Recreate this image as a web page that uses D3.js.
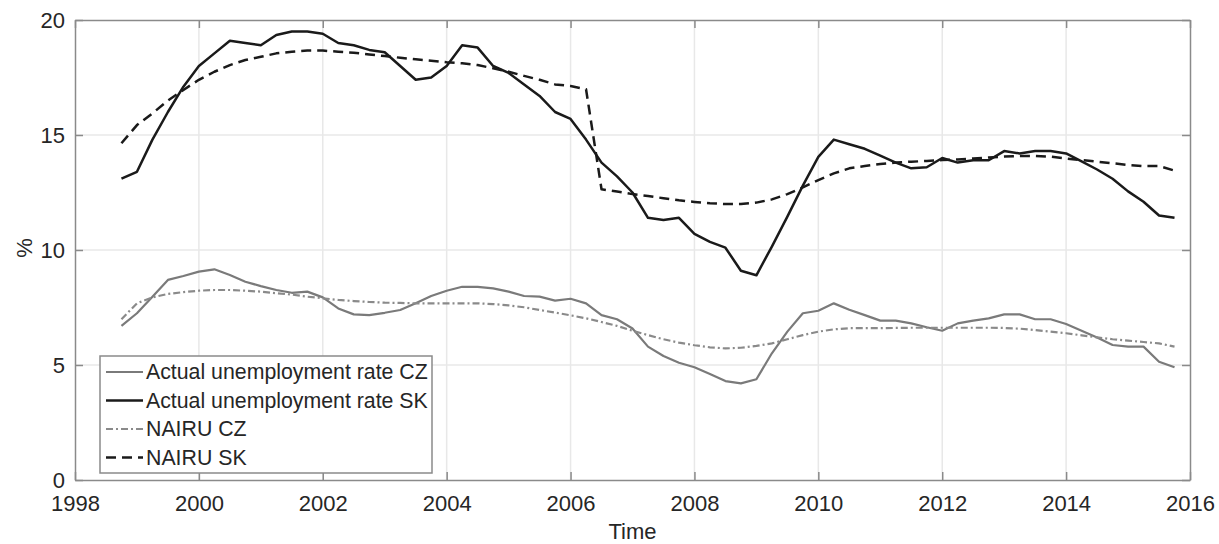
<!doctype html>
<html lang="en">
<head>
    <title>Unemployment and NAIRU</title>
    <script src='https://d3js.org/d3.v7.min.js'></script>
    <style>
        body { margin: 0; background: #fff; }
        svg text {
            font-family: "Liberation Sans", Arial, sans-serif;
            fill: #262626;
        }
    </style>
</head>
<body>
    <div id="chart"></div>
    <script>
        // Quarterly data, Q4 1998 to Q4 2015
        var firstQuarter = 1998.75;

        var actualCZ = [6.7, 7.25, 7.97, 8.7, 8.87, 9.06, 9.16, 8.91, 8.62, 8.43, 8.26, 8.14, 8.19, 7.94,
            7.46, 7.2, 7.17, 7.27, 7.39, 7.68, 8.0, 8.23, 8.4, 8.4, 8.33, 8.19, 8.0, 7.97, 7.8, 7.88,
            7.68, 7.17, 6.99, 6.59, 5.8, 5.39, 5.1, 4.9, 4.61, 4.3, 4.2, 4.38, 5.51, 6.45, 7.25, 7.36,
            7.68, 7.4, 7.17, 6.93, 6.93, 6.81, 6.64, 6.49, 6.81, 6.93, 7.03, 7.2, 7.2, 6.99, 6.99, 6.78,
            6.49, 6.2, 5.87, 5.8, 5.8, 5.14, 4.9];

        var actualSK = [13.1, 13.4, 14.8, 16.0, 17.1, 18.0, 18.55, 19.1, 19.0, 18.9, 19.35, 19.5, 19.5, 19.4,
            19.0, 18.9, 18.7, 18.6, 18.0, 17.4, 17.5, 18.0, 18.9, 18.8, 18.0, 17.7, 17.2, 16.7, 16.0, 15.7,
            14.8, 13.8, 13.2, 12.5, 11.4, 11.3, 11.4, 10.7, 10.35, 10.1, 9.1, 8.9, 10.15, 11.45, 12.8, 14.05,
            14.8, 14.6, 14.4, 14.1, 13.8, 13.55, 13.6, 14.0, 13.8, 13.9, 13.9, 14.3, 14.2, 14.3, 14.3, 14.2,
            13.85, 13.5, 13.1, 12.55, 12.1, 11.5, 11.4];

        var nairuCZ = [6.99, 7.68, 7.94, 8.09, 8.17, 8.23, 8.26, 8.26, 8.23, 8.19, 8.12, 8.06, 7.97, 7.9,
            7.83, 7.78, 7.74, 7.71, 7.7, 7.68, 7.68, 7.68, 7.68, 7.68, 7.65, 7.59, 7.51, 7.39, 7.28, 7.16,
            7.03, 6.87, 6.7, 6.49, 6.3, 6.12, 5.97, 5.86, 5.77, 5.72, 5.75, 5.83, 5.94, 6.12, 6.3, 6.45,
            6.55, 6.6, 6.6, 6.6, 6.61, 6.62, 6.62, 6.62, 6.62, 6.62, 6.62, 6.61, 6.58, 6.52, 6.45, 6.38,
            6.29, 6.2, 6.12, 6.06, 6.0, 5.94, 5.8];

        var nairuSK = [14.64, 15.43, 15.94, 16.5, 16.96, 17.4, 17.75, 18.04, 18.26, 18.4, 18.55, 18.62, 18.67, 18.67,
            18.62, 18.58, 18.5, 18.43, 18.36, 18.29, 18.23, 18.16, 18.12, 18.04, 17.9, 17.75, 17.57, 17.4, 17.2, 17.13,
            16.99, 12.64, 12.54, 12.43, 12.35, 12.25, 12.16, 12.09, 12.03, 12.0, 12.0, 12.06, 12.2, 12.43, 12.72, 13.04,
            13.33, 13.55, 13.65, 13.74, 13.8, 13.84, 13.87, 13.91, 13.94, 13.98, 14.02, 14.06, 14.09, 14.09, 14.06, 13.98,
            13.91, 13.84, 13.77, 13.7, 13.65, 13.65, 13.45];

        var xTicks = [1998, 2000, 2002, 2004, 2006, 2008, 2010, 2012, 2014, 2016];
        var yTicks = [0, 5, 10, 15, 20];

        var seriesNames = ["Actual unemployment rate CZ", "Actual unemployment rate SK", "NAIRU CZ", "NAIRU SK"];

        var quarters = d3.range(actualSK.length).map(function(i) { return firstQuarter + i * 0.25; });

        // Chart size
        var width  = 1219;
        var height = 544;
        var margin = { top: 20, right: 29, bottom: 64, left: 75 };

        var x = d3.scaleLinear().domain([1998, 2016]).range([margin.left, width - margin.right]);
        var y = d3.scaleLinear().domain([0, 20]).range([height - margin.bottom, margin.top]);

        var svg = d3.select("#chart")
            .append("svg")
            .attr("width", width)
            .attr("height", height);

        // Grid lines
        svg.append("g")
            .selectAll("line")
            .data(xTicks.slice(1, -1))
            .enter().append("line")
            .attr("x1", function(d) { return x(d); })
            .attr("x2", function(d) { return x(d); })
            .attr("y1", y(0)).attr("y2", y(20))
            .attr("stroke", "#e8e8e8").attr("stroke-width", 1.5);

        svg.append("g")
            .selectAll("line")
            .data(yTicks.slice(1, -1))
            .enter().append("line")
            .attr("y1", function(d) { return y(d); })
            .attr("y2", function(d) { return y(d); })
            .attr("x1", x(1998)).attr("x2", x(2016))
            .attr("stroke", "#e8e8e8").attr("stroke-width", 1.5);

        // Axes (MATLAB style, ticks pointing inward on all sides)
        var tickLen = 8;
        var axisStyle = function(g) {
            g.select(".domain").attr("stroke", "#8a8a8a").attr("stroke-width", 1.5);
            g.selectAll(".tick line").attr("stroke", "#8a8a8a").attr("stroke-width", 1.5);
            g.selectAll(".tick text").attr("font-size", "22px").attr("fill", "#262626");
        };

        svg.append("g")
            .attr("transform", "translate(0," + y(0) + ")")
            .call(d3.axisBottom(x).tickValues(xTicks).tickFormat(d3.format("d"))
                .tickSizeInner(-tickLen).tickSizeOuter(0).tickPadding(15))
            .call(axisStyle);

        svg.append("g")
            .attr("transform", "translate(0," + y(20) + ")")
            .call(d3.axisTop(x).tickValues(xTicks).tickFormat("")
                .tickSizeInner(-tickLen).tickSizeOuter(0))
            .call(axisStyle);

        svg.append("g")
            .attr("transform", "translate(" + x(1998) + ",0)")
            .call(d3.axisLeft(y).tickValues(yTicks)
                .tickSizeInner(-tickLen).tickSizeOuter(0).tickPadding(10))
            .call(axisStyle);

        svg.append("g")
            .attr("transform", "translate(" + x(2016) + ",0)")
            .call(d3.axisRight(y).tickValues(yTicks).tickFormat("")
                .tickSizeInner(-tickLen).tickSizeOuter(0))
            .call(axisStyle);

        // Axis labels
        svg.append("text")
            .attr("x", (x(1998) + x(2016)) / 2)
            .attr("y", 539)
            .attr("text-anchor", "middle")
            .attr("font-size", "22px")
            .text("Time");

        svg.append("text")
            .attr("transform", "translate(32," + (y(10) - 2) + ") rotate(-90)")
            .attr("text-anchor", "middle")
            .attr("font-size", "22px")
            .text("%");

        // Lines
        var styles = [
            { data: actualCZ, color: "#7a7a7a", width: 2.2, dash: null },
            { data: actualSK, color: "#1a1a1a", width: 2.5, dash: null },
            { data: nairuCZ,  color: "#8a8a8a", width: 2.2, dash: "7,3,2,3" },
            { data: nairuSK,  color: "#1a1a1a", width: 2.5, dash: "10,6" }
        ];

        var line = d3.line()
            .x(function(d, i) { return x(quarters[i]); })
            .y(function(d) { return y(d); });

        svg.append("g")
            .selectAll("path")
            .data(styles)
            .enter().append("path")
            .attr("d", function(s) { return line(s.data); })
            .attr("fill", "none")
            .attr("stroke", function(s) { return s.color; })
            .attr("stroke-width", function(s) { return s.width; })
            .attr("stroke-dasharray", function(s) { return s.dash; })
            .attr("stroke-linejoin", "round");

        // Legend
        var legend = svg.append("g");
        legend.append("rect")
            .attr("x", 100).attr("y", 356)
            .attr("width", 332).attr("height", 117)
            .attr("fill", "#fff")
            .attr("stroke", "#8a8a8a").attr("stroke-width", 1.5);

        var entry = legend.selectAll("g.entry")
            .data(styles)
            .enter().append("g")
            .attr("class", "entry")
            .attr("transform", function(d, i) { return "translate(0," + (372 + i * 28.5) + ")"; });

        entry.append("line")
            .attr("x1", 106).attr("x2", 143)
            .attr("y1", 0).attr("y2", 0)
            .attr("stroke", function(s) { return s.color; })
            .attr("stroke-width", function(s) { return s.width; })
            .attr("stroke-dasharray", function(s) { return s.dash; });

        entry.append("text")
            .attr("x", 146)
            .attr("dy", "0.35em")
            .attr("font-size", "21.3px")
            .text(function(d, i) { return seriesNames[i]; });
    </script>
</body>
</html>
